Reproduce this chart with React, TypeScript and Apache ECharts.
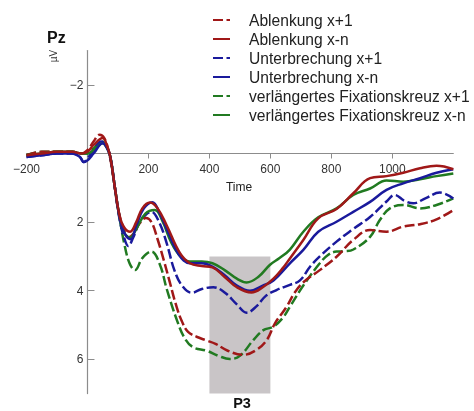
import React, { useEffect, useRef } from "react";
import * as echarts from "echarts";

// Time (ms) / amplitude (µV) pairs
const ablenkungX1: [number, number][] = [
  [-200, 0.05], [-150, -0.05], [-100, -0.05], [-50, -0.05], [-20, 0.0], [0, -0.1], [20, -0.35], [40, -0.55], [55, -0.45], [70, -0.05], [85, 0.7], [100, 1.6], [117, 2.15], [135, 2.45], [150, 2.35], [170, 2.05], [192, 1.88], [210, 2.0], [230, 2.5], [250, 3.1], [270, 3.75], [290, 4.4], [310, 4.9], [330, 5.2], [360, 5.35], [390, 5.45], [420, 5.55], [460, 5.75], [510, 5.87], [550, 5.75], [588, 5.44], [615, 4.95], [653, 4.47], [680, 4.05], [710, 3.74], [762, 3.4], [817, 3.01], [872, 2.52], [927, 2.23], [981, 2.28], [1036, 2.13], [1091, 2.06], [1145, 1.92], [1200, 1.65],
];
const ablenkungXn: [number, number][] = [
  [-200, 0.05], [-150, 0.0], [-100, -0.05], [-50, -0.05], [-20, 0.0], [0, -0.05], [20, -0.25], [50, -0.45], [65, -0.2], [75, 0.1], [90, 1.0], [105, 1.8], [120, 2.15], [140, 2.28], [160, 2.0], [180, 1.6], [205, 1.43], [230, 1.6], [260, 2.1], [303, 2.9], [336, 3.2], [375, 3.28], [410, 3.32], [450, 3.6], [490, 3.9], [538, 4.05], [575, 3.9], [610, 3.65], [640, 3.35], [664, 3.06], [708, 2.52], [757, 1.89], [817, 1.62], [872, 1.16], [927, 0.72], [981, 0.66], [1036, 0.56], [1091, 0.43], [1145, 0.36], [1200, 0.46],
];
const unterbrechungX1: [number, number][] = [
  [-200, 0.1], [-150, 0.05], [-100, 0.0], [-50, 0.0], [-25, 0.1], [-12, 0.25], [0, 0.15], [20, -0.1], [45, -0.35], [62, -0.2], [75, 0.1], [90, 1.0], [105, 1.9], [120, 2.45], [134, 2.7], [150, 2.45], [175, 1.95], [210, 1.7], [235, 2.0], [260, 2.62], [285, 3.4], [310, 3.85], [342, 4.06], [375, 3.95], [413, 3.9], [450, 4.05], [490, 4.4], [522, 4.64], [555, 4.45], [585, 4.15], [620, 3.98], [664, 3.83], [697, 3.7], [730, 3.3], [762, 3.0], [817, 2.57], [872, 2.2], [927, 1.85], [981, 1.4], [1008, 1.21], [1040, 1.38], [1069, 1.45], [1110, 1.3], [1156, 1.14], [1200, 1.31],
];
const unterbrechungXn: [number, number][] = [
  [-200, 0.1], [-150, 0.05], [-100, 0.0], [-50, 0.0], [-25, 0.1], [-12, 0.25], [0, 0.2], [20, 0.0], [50, -0.3], [65, -0.15], [75, 0.1], [90, 1.0], [105, 1.85], [120, 2.3], [142, 2.5], [160, 2.1], [185, 1.6], [213, 1.42], [235, 1.7], [265, 2.3], [300, 2.95], [336, 3.2], [375, 3.2], [410, 3.3], [450, 3.55], [490, 3.85], [533, 4.0], [575, 3.85], [610, 3.7], [664, 3.2], [708, 2.81], [757, 2.28], [817, 1.99], [872, 1.7], [927, 1.41], [981, 1.06], [1036, 0.87], [1091, 0.72], [1145, 0.56], [1200, 0.46],
];
const fixationX1: [number, number][] = [
  [-200, 0.05], [-150, -0.05], [-100, -0.05], [-50, -0.05], [-20, 0.0], [0, 0.0], [20, -0.15], [48, -0.35], [62, -0.2], [75, 0.1], [90, 1.0], [105, 1.85], [120, 2.6], [138, 3.2], [156, 3.4], [180, 3.05], [210, 2.86], [238, 3.25], [260, 3.95], [293, 4.85], [320, 5.4], [347, 5.65], [391, 5.75], [430, 5.9], [467, 5.99], [500, 5.9], [544, 5.44], [577, 5.15], [609, 5.05], [640, 4.8], [664, 4.47], [708, 3.85], [762, 3.2], [790, 2.95], [817, 2.86], [845, 2.85], [872, 2.8], [927, 2.43], [959, 1.94], [992, 1.6], [1036, 1.5], [1091, 1.6], [1145, 1.5], [1200, 1.31],
];
const fixationXn: [number, number][] = [
  [-200, 0.05], [-150, 0.0], [-100, -0.05], [-50, -0.05], [-20, 0.0], [0, 0.0], [20, -0.1], [50, -0.3], [65, -0.15], [75, 0.1], [90, 1.0], [105, 1.85], [120, 2.3], [140, 2.45], [160, 2.2], [190, 1.75], [221, 1.65], [245, 1.95], [275, 2.6], [305, 3.0], [336, 3.15], [375, 3.15], [410, 3.2], [450, 3.4], [490, 3.65], [522, 3.76], [560, 3.6], [598, 3.25], [630, 3.05], [664, 2.8], [708, 2.28], [757, 1.86], [817, 1.6], [872, 1.21], [927, 1.02], [981, 0.79], [1036, 0.82], [1091, 0.75], [1145, 0.66], [1200, 0.58],
];

const legendNames = [
  "Ablenkung x+1",
  "Ablenkung x-n",
  "Unterbrechung x+1",
  "Unterbrechung x-n",
  "verlängertes Fixationskreuz x+1",
  "verlängertes Fixationskreuz x-n",
];

const xTickLabels = [-200, 200, 400, 600, 800, 1000];
const xTicks = [200, 400, 600, 800, 1000];
const yTickLabels = [-2, 2, 4, 6];
const p3Window = [400, 600];
const p3Amplitude = [3, 7];

const RED = "#a01818";
const BLUE = "#1a1a9c";
const GREEN = "#217a21";
const FONT = '"Liberation Sans", Arial, sans-serif';
const DASH = [10, 3.5];

// grid geometry (pixels)
const G_LEFT = 26.5;
const G_RIGHT = 20.7;
const G_TOP = 50.6;
const G_BOTTOM = 17.4;
const X_MIN = -200, X_MAX = 1200, Y_MIN = -3, Y_MAX = 7;

export default function App() {
  const ref = useRef<HTMLDivElement>(null);
  useEffect(() => {
    if (!ref.current) return;
    const chart = echarts.init(ref.current, undefined, { renderer: "svg" });
    const W = 474, H = 411;
    const plotW = W - G_LEFT - G_RIGHT;
    const plotH = H - G_TOP - G_BOTTOM;
    // offsets that put each axis where the other axis is zero
    const zeroYpx = G_TOP + ((0 - Y_MIN) / (Y_MAX - Y_MIN)) * plotH;
    const xAxisOffset = -(H - G_BOTTOM - zeroYpx);
    const zeroXpx = G_LEFT + ((0 - X_MIN) / (X_MAX - X_MIN)) * plotW;
    const yAxisOffset = -(zeroXpx - G_LEFT);

    const mk = (name: string, data: [number, number][], color: string, dashed: boolean, extra: any = {}) => ({
      name,
      type: "line",
      data,
      smooth: 0.4,
      symbol: "none",
      lineStyle: { color, width: 2.5, type: dashed ? DASH : "solid", cap: "butt" },
      itemStyle: { color },
      z: dashed ? 2 : 3,
      ...extra,
    });
    const minus = (v: number) => String(v).replace("-", "\u2212");
    chart.setOption({
      animation: false,
      textStyle: { fontFamily: FONT },
      grid: { left: G_LEFT, right: G_RIGHT, top: G_TOP, bottom: G_BOTTOM, containLabel: false },
      xAxis: {
        type: "value",
        min: X_MIN,
        max: X_MAX,
        interval: 200,
        position: "bottom",
        offset: xAxisOffset,
        axisLine: { onZero: false, lineStyle: { color: "#8c8c8c", width: 1.2 } },
        axisTick: { show: true, length: 5, customValues: xTicks, lineStyle: { color: "#8c8c8c" } },
        axisLabel: { customValues: xTickLabels, formatter: minus, fontSize: 12, color: "#333", margin: 9, fontFamily: FONT },
        splitLine: { show: false },
      },
      yAxis: {
        type: "value",
        inverse: true,
        min: Y_MIN,
        max: Y_MAX,
        interval: 1,
        position: "left",
        offset: yAxisOffset,
        axisLine: { show: true, onZero: false, lineStyle: { color: "#8c8c8c", width: 1.2 } },
        axisTick: { show: true, inside: true, length: 7, customValues: yTickLabels, lineStyle: { color: "#8c8c8c" } },
        axisLabel: { customValues: yTickLabels, formatter: minus, fontSize: 12, color: "#333", margin: 4, fontFamily: FONT },
        splitLine: { show: false },
      },
      legend: {
        data: legendNames,
        orient: "vertical",
        left: 212,
        top: 10.5,
        padding: 0,
        itemWidth: 17,
        itemHeight: 4,
        itemGap: 0,
        itemStyle: { opacity: 0 },
        textStyle: { fontSize: 15.6, lineHeight: 19, color: "#222", fontFamily: FONT, padding: [0, 0, 0, 14] },
      },
      series: [
        mk(legendNames[4], fixationX1, GREEN, true, {
          markArea: {
            silent: true,
            itemStyle: { color: "#c9c5c7" },
            data: [[{ xAxis: p3Window[0], yAxis: p3Amplitude[0] }, { xAxis: p3Window[1], yAxis: p3Amplitude[1] }]],
          },
        }),
        mk(legendNames[2], unterbrechungX1, BLUE, true),
        mk(legendNames[0], ablenkungX1, RED, true),
        mk(legendNames[5], fixationXn, GREEN, false),
        mk(legendNames[3], unterbrechungXn, BLUE, false),
        mk(legendNames[1], ablenkungXn, RED, false),
      ],
      graphic: [
        { type: "text", x: 47, y: 37, style: { text: "Pz", fontSize: 16, fontWeight: "bold", fontFamily: FONT, fill: "#111", verticalAlign: "middle" } },
        { type: "text", x: 53.5, y: 56, rotation: Math.PI / 2, style: { text: "µV", fontSize: 10, fontFamily: FONT, fill: "#333", align: "center", verticalAlign: "middle" } },
        { type: "text", x: 239, y: 187, style: { text: "Time", fontSize: 12, fontFamily: FONT, fill: "#222", align: "center", verticalAlign: "middle" } },
        { type: "text", x: 242, y: 403, style: { text: "P3", fontSize: 14.5, fontWeight: "bold", fontFamily: FONT, fill: "#111", align: "center", verticalAlign: "middle" } },
      ],
    });
    return () => chart.dispose();
  }, []);
  return <div ref={ref} style={{ position: "fixed", left: 0, top: 0, width: 474, height: 411 }} />;
}
